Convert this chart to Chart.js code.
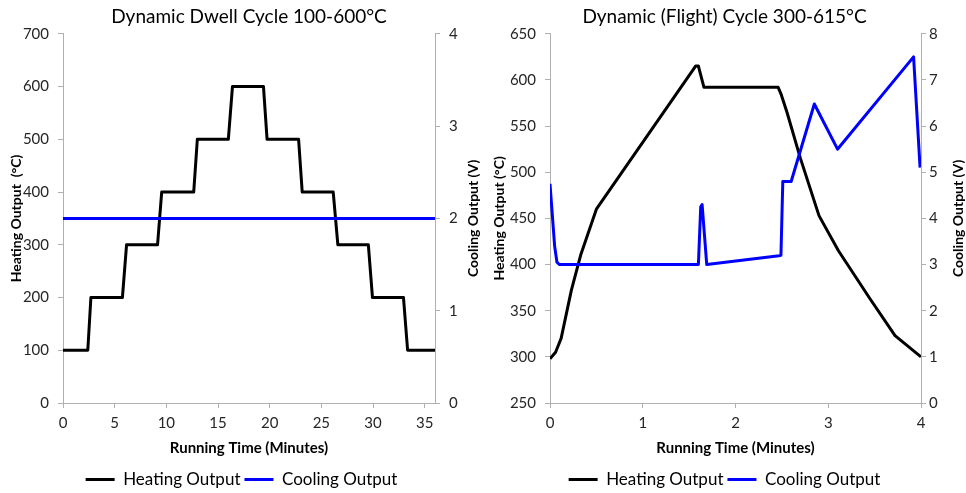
<!DOCTYPE html>
<html>
<head>
<meta charset="utf-8">
<script src="https://cdn.jsdelivr.net/npm/chart.js@4.4.0/dist/chart.umd.min.js"></script>
<style>
  body { margin: 0; background: #fff; }
  .wrap { display: flex; width: 966px; height: 493px; }
  .wrap div { width: 483px; height: 493px; }
</style>
</head>
<body>
<div class="wrap">
  <div><canvas id="dwell" width="483" height="493"></canvas></div>
  <div><canvas id="flight" width="483" height="493"></canvas></div>
</div>
<script>
// ---- dwell cycle (left) ----
const dwellTime = [0, 2.4, 2.7, 5.75, 6.15, 9.15, 9.55, 12.65, 13.0, 16.0, 16.4, 19.4, 19.75, 22.8, 23.15, 26.15, 26.6, 29.55, 29.95, 32.95, 33.35, 36];
const dwellHeat = [100, 100, 200, 200, 300, 300, 400, 400, 500, 500, 600, 600, 500, 500, 400, 400, 300, 300, 200, 200, 100, 100];
const dwellCoolTime = [0, 36];
const dwellCool = [2, 2];
const dwellXTicks = [0, 5, 10, 15, 20, 25, 30, 35];
const dwellHeatTicks = [0, 100, 200, 300, 400, 500, 600, 700];
const dwellCoolTicks = [0, 1, 2, 3, 4];

// ---- flight cycle (right) ----
const flightTime = [0, 0.06, 0.12, 0.23, 0.33, 0.5, 1.57, 1.6, 1.66, 2.46, 2.49, 2.555, 2.7, 2.9, 3.11, 3.45, 3.72, 4.0];
const flightHeat = [298, 305, 320, 372, 410, 460, 615, 615, 592, 592, 585, 565, 515, 453, 415, 363, 323, 300];
const flightCoolTime = [0, 0.05, 0.075, 0.1, 1.6, 1.625, 1.64, 1.69, 2.47, 2.49, 2.51, 2.6, 2.85, 3.1, 3.92, 3.99];
const flightCool = [4.75, 3.4, 3.05, 3.0, 3.0, 4.25, 4.3, 3.0, 3.19, 3.2, 4.8, 4.8, 6.48, 5.5, 7.5, 5.1];
const flightXTicks = [0, 1, 2, 3, 4];
const flightHeatTicks = [250, 300, 350, 400, 450, 500, 550, 600, 650];
const flightCoolTicks = [0, 1, 2, 3, 4, 5, 6, 7, 8];

const FONT = 'Lato';
const axisGray = '#b0b0b0';
const tickColor = '#262626';

function pts(xs, ys) {
  return xs.map((x, i) => ({ x: x, y: ys[i] }));
}

// right axis title reads bottom-to-top like the left one
const sideTitle = {
  id: 'sideTitle',
  afterDraw(chart, args, opts) {
    const s = chart.scales.y2;
    const ctx = chart.ctx;
    ctx.save();
    ctx.translate(chart.width - opts.offset, (s.top + s.bottom) / 2);
    ctx.rotate(-Math.PI / 2);
    ctx.font = 'bold 14px ' + FONT;
    ctx.fillStyle = '#000';
    ctx.textAlign = 'center';
    ctx.textBaseline = 'middle';
    ctx.fillText(opts.text, 0, 0);
    ctx.restore();
  }
};

function makeChart(id, cfg) {
  const tickFont = { family: FONT, size: 15 };
  const titleFont = { family: FONT, size: 14, weight: 'bold' };
  return new Chart(document.getElementById(id), {
    type: 'line',
    data: {
      datasets: [{
        label: 'Heating Output',
        data: pts(cfg.time, cfg.heat),
        borderColor: '#000',
        backgroundColor: '#000',
        borderWidth: 3,
        pointRadius: 0,
        tension: 0,
        borderJoinStyle: 'round',
        yAxisID: 'y',
        order: 1
      }, {
        label: 'Cooling Output',
        data: pts(cfg.coolTime, cfg.cool),
        borderColor: '#0000ff',
        backgroundColor: '#0000ff',
        borderWidth: 3,
        pointRadius: 0,
        tension: 0,
        borderJoinStyle: 'round',
        yAxisID: 'y2',
        order: 0
      }]
    },
    plugins: [sideTitle],
    options: {
      responsive: false,
      animation: false,
      layout: { padding: { left: 0, right: 0, top: 0, bottom: -5 } },
      plugins: {
        tooltip: { enabled: false },
        title: {
          display: true,
          text: cfg.title,
          color: '#000',
          fullSize: cfg.titleFull,
          font: { family: FONT, size: 19, weight: 'normal' },
          padding: { top: 5, bottom: 6 }
        },
        legend: {
          position: 'bottom',
          labels: {
            color: '#000',
            font: { family: FONT, size: 17 },
            boxWidth: 29,
            boxHeight: 3,
            padding: cfg.legendGap,
            sort: (a, b) => a.datasetIndex - b.datasetIndex,
            generateLabels(chart) {
              return Chart.defaults.plugins.legend.labels.generateLabels(chart)
                .map(item => Object.assign(item, { lineWidth: 0 }));
            }
          }
        },
        sideTitle: { text: 'Cooling Output (V)', offset: cfg.rightTitleOffset }
      },
      scales: {
        x: {
          type: 'linear',
          min: cfg.xTicks[0],
          max: cfg.xMax,
          afterBuildTicks: s => { s.ticks = cfg.xTicks.map(v => ({ value: v })); },
          afterFit: s => { s.height = cfg.xHeight; },
          grid: { display: true, drawOnChartArea: false, color: axisGray, tickLength: 5 },
          border: { color: axisGray },
          ticks: { color: tickColor, font: tickFont, padding: 6, maxRotation: 0 },
          title: {
            display: true, text: 'Running Time (Minutes)', color: '#000',
            font: { family: FONT, size: 15, weight: 'bold' }, padding: { top: 0, bottom: 10 }
          }
        },
        y: {
          position: 'left',
          min: cfg.heatTicks[0],
          max: cfg.heatTicks[cfg.heatTicks.length - 1],
          afterBuildTicks: s => { s.ticks = cfg.heatTicks.map(v => ({ value: v })); },
          afterFit: s => { s.width = cfg.leftWidth; },
          grid: { display: true, drawOnChartArea: false, color: axisGray, tickLength: 5 },
          border: { color: axisGray },
          ticks: { color: tickColor, font: tickFont, padding: 9 },
          title: {
            display: true, text: cfg.heatTitle, color: '#000',
            font: titleFont, padding: { top: 8, bottom: 0 }
          }
        },
        y2: {
          position: 'right',
          min: cfg.coolTicks[0],
          max: cfg.coolTicks[cfg.coolTicks.length - 1],
          afterBuildTicks: s => { s.ticks = cfg.coolTicks.map(v => ({ value: v })); },
          afterFit: s => { s.width = cfg.rightWidth; },
          grid: { display: true, drawOnChartArea: false, color: axisGray, tickLength: 5 },
          border: { color: axisGray },
          ticks: { color: tickColor, font: tickFont, padding: cfg.rightPad }
        }
      }
    }
  });
}

makeChart('dwell', {
  title: 'Dynamic Dwell Cycle 100-600°C', titleFull: false,
  heatTitle: 'Heating Output  (°C)',
  time: dwellTime, heat: dwellHeat,
  coolTime: dwellCoolTime, cool: dwellCool,
  xTicks: dwellXTicks, xMax: 36,
  heatTicks: dwellHeatTicks, coolTicks: dwellCoolTicks,
  leftWidth: 63, rightWidth: 48, rightPad: 9,
  xHeight: 64, rightTitleOffset: 10, legendGap: 4
});

makeChart('flight', {
  title: 'Dynamic (Flight) Cycle 300-615°C', titleFull: true,
  heatTitle: 'Heating Output (°C)',
  time: flightTime, heat: flightHeat,
  coolTime: flightCoolTime, cool: flightCool,
  xTicks: flightXTicks, xMax: 4,
  heatTicks: flightHeatTicks, coolTicks: flightCoolTicks,
  leftWidth: 67, rightWidth: 45, rightPad: 3,
  xHeight: 64, rightTitleOffset: 8, legendGap: 4
});
</script>
</body>
</html>
